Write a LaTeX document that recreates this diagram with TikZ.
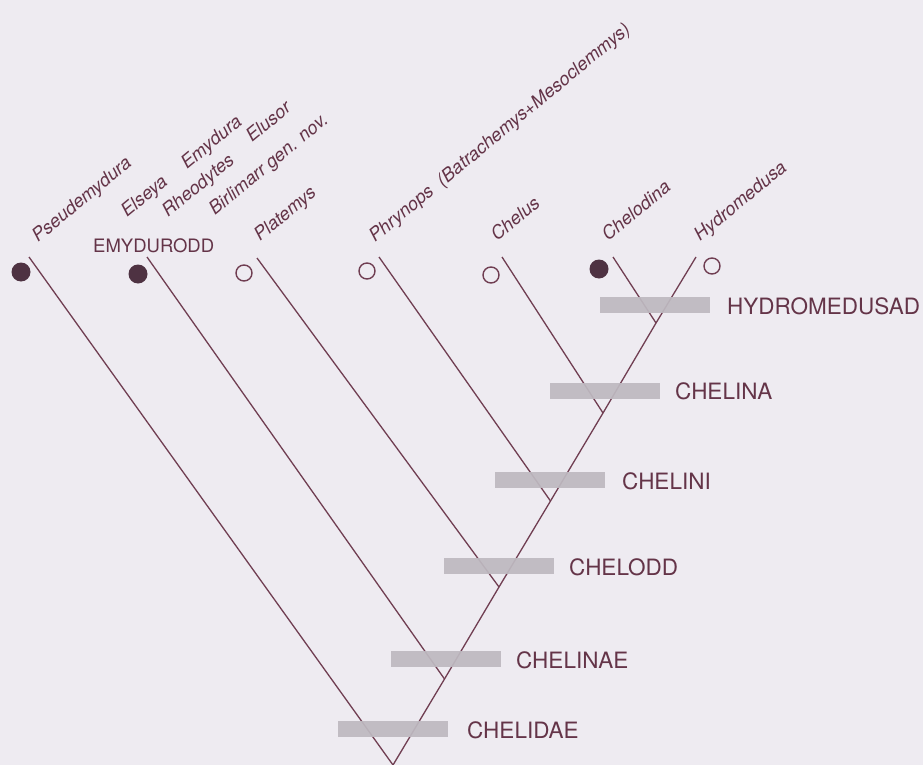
\documentclass[tikz,border=0pt]{standalone}
\usepackage{fontspec}
\setmainfont{TeX Gyre Heros}
\definecolor{bg}{RGB}{238,235,241}
\definecolor{ln}{RGB}{112,62,82}
\definecolor{tx}{RGB}{100,52,72}
\definecolor{dotc}{RGB}{78,50,66}
\definecolor{barc}{RGB}{190,185,192}
\begin{document}
\begin{tikzpicture}[x=1pt,y=-1pt,
  branch/.style={draw=ln,line width=1.3pt},
  barbox/.style={fill=barc,draw=none,minimum width=110pt,minimum height=16pt,inner sep=0pt,opacity=0.93},
  clade/.style={text=tx,font=\fontsize{22.5}{26}\selectfont,anchor=base west,inner sep=0pt},
  taxon/.style={text=tx,font=\fontsize{18.3}{21}\selectfont\itshape,anchor=base west,inner sep=0pt,rotate=39.5},
  grp/.style={text=tx,font=\fontsize{18.5}{21}\selectfont,anchor=base west,inner sep=0pt},
  fdot/.style={circle,fill=dotc,draw=none,minimum size=19pt,inner sep=0pt},
  odot/.style={circle,draw=ln,line width=1.4pt,fill=none,minimum size=16pt,inner sep=0pt}]
\fill[bg] (0,0) rectangle (923,765);
\useasboundingbox (0,0) rectangle (923,765);
% junctions
\coordinate (j1) at (393,765);
\coordinate (j2) at (444.5,679);
\coordinate (j3) at (499,587);
\coordinate (j4) at (550.5,501);
\coordinate (j5) at (603,413);
\coordinate (j6) at (656,323);
% tips
\coordinate (t1) at (29,257);
\coordinate (t2) at (147,257);
\coordinate (t3) at (257,258);
\coordinate (t4) at (379,257);
\coordinate (t5) at (502,257);
\coordinate (t6) at (613,257);
\coordinate (t7) at (696,257);
% branches
\draw[branch] (j1) -- (j2) -- (j3) -- (j4) -- (j5) -- (j6) -- (t7);
\draw[branch] (t1) -- (j1);
\draw[branch] (t2) -- (j2);
\draw[branch] (t3) -- (j3);
\draw[branch] (t4) -- (j4);
\draw[branch] (t5) -- (j5);
\draw[branch] (t6) -- (j6);
% bars
\node[barbox] (b1) at (393,729) {};
\node[barbox] (b2) at (445.5,658.5) {};
\node[barbox] (b3) at (498.5,565.5) {};
\node[barbox] (b4) at (550,480) {};
\node[barbox] (b5) at (604.5,391) {};
\node[barbox] (b6) at (655,304.5) {};
% clade labels
\node[clade] (c1) at (467,738) {CHELIDAE};
\node[clade] (c2) at (516,668) {CHELINAE};
\node[clade] (c3) at (569,575) {CHELODD};
\node[clade] (c4) at (622,489) {CHELINI};
\node[clade] (c5) at (675,399) {CHELINA};
\node[clade] (c6) at (727,314) {HYDROMEDUSAD};
% dots
\node[fdot] (d1) at (21,272) {};
\node[fdot] (d2) at (138,274) {};
\node[odot] (d3) at (244,273) {};
\node[odot] (d4) at (367,271) {};
\node[odot] (d5) at (491,275) {};
\node[fdot] (d6) at (599,269) {};
\node[odot] (d7) at (712,266) {};
% group label
\node[grp] (g1) at (93,252) {EMYDURODD};
% taxon labels
\node[taxon] (n1) at (38,243) {Pseudemydura};
\node[taxon] (n2) at (127,218) {Elseya};
\node[taxon] (n3) at (187,170) {Emydura};
\node[taxon] (n4) at (168,218) {Rheodytes};
\node[taxon] (n5) at (252,143) {Elusor};
\node[taxon] (n6) at (215,216) {Birlimarr gen. nov.};
\node[taxon] (n7) at (260,242) {Platemys};
\node[taxon] (n8) at (375,243) {Phrynops\ \ (Batrachemys+Mesoclemmys)};
\node[taxon] (n9) at (497,242) {Chelus};
\node[taxon] (n10) at (608,242) {Chelodina};
\node[taxon] (n11) at (700,242) {Hydromedusa};
\end{tikzpicture}
\end{document}
